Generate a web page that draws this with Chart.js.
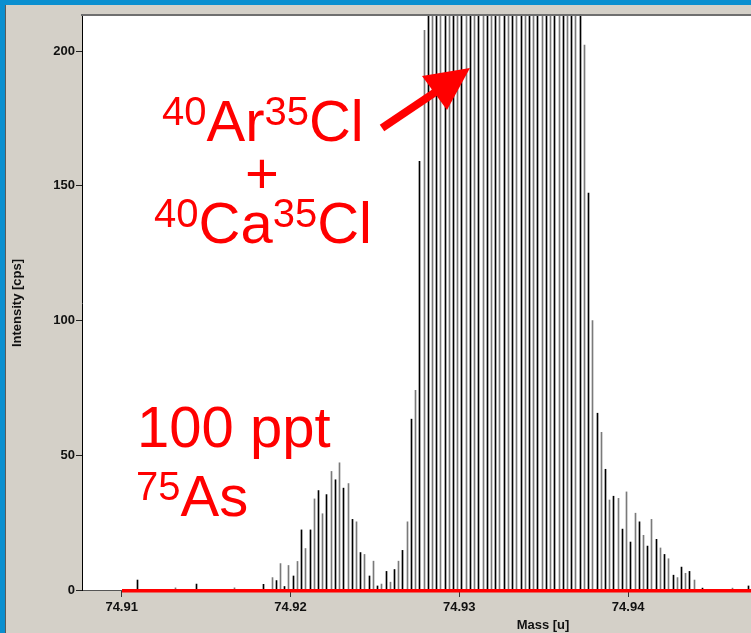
<!DOCTYPE html>
<html>
<head>
<meta charset="utf-8">
<title>Mass spectrum 75As</title>
<script src="https://cdn.jsdelivr.net/npm/chart.js@4.4.1/dist/chart.umd.min.js"></script>
<style>
  html, body { margin: 0; padding: 0; background: #d4d0c8; overflow: hidden; }
  canvas { display: block; }
</style>
</head>
<body>
<canvas id="spectrum" width="751" height="633"></canvas>
<script>
  // ========== DATA ==========
  const masses = [
    74.91091, 74.91316, 74.91441, 74.91666, 74.91841, 74.91891, 74.91916, 74.91941, 74.91966, 74.91991,
    74.92016, 74.92041, 74.92066, 74.92091, 74.92116, 74.92141, 74.92166, 74.92191, 74.92216, 74.92241,
    74.92266, 74.92291, 74.92316, 74.92341, 74.92366, 74.92391, 74.92416, 74.92441, 74.92466, 74.92491,
    74.92516, 74.92541, 74.92566, 74.92591, 74.92616, 74.92641, 74.92666, 74.92691, 74.92716, 74.92741,
    74.92766, 74.92791, 74.92816, 74.92841, 74.92866, 74.92891, 74.92916, 74.92941, 74.92966, 74.92991,
    74.93016, 74.93041, 74.93066, 74.93091, 74.93116, 74.93141, 74.93166, 74.93191, 74.93216, 74.93241,
    74.93266, 74.93291, 74.93316, 74.93341, 74.93366, 74.93391, 74.93416, 74.93441, 74.93466, 74.93491,
    74.93516, 74.93541, 74.93566, 74.93591, 74.93616, 74.93641, 74.93666, 74.93691, 74.93716, 74.93741,
    74.93766, 74.93791, 74.93816, 74.93841, 74.93866, 74.93891, 74.93916, 74.93941, 74.93966, 74.93991,
    74.94016, 74.94041, 74.94066, 74.94091, 74.94116, 74.94141, 74.94166, 74.94191, 74.94216, 74.94241,
    74.94266, 74.94291, 74.94316, 74.94341, 74.94366, 74.94391, 74.94441, 74.94616, 74.94716
  ];
  // intensities in cps; the big ArCl/CaCl peak is off scale, so those values are rough guesses
  const intensities = [
    3.7, 0.8, 2.2, 0.8, 2.1, 4.6, 3.5, 9.8, 1.3, 9.1,
    5.2, 10.6, 22.3, 15.4, 22.3, 33.8, 36.9, 28.3, 35.4, 44.0,
    40.9, 47.2, 37.8, 39.5, 26.2, 25.3, 13.9, 13.2, 5.2, 10.7,
    1.5, 2.2, 6.9, 2.9, 7.6, 10.7, 14.7, 25.3, 63.4, 74.1,
    159.1, 207.7, 260, 320, 390, 460, 530, 600, 660, 710,
    750, 780, 800, 810, 815, 810, 800, 790, 775, 760,
    740, 720, 700, 680, 655, 630, 600, 570, 540, 510,
    475, 440, 405, 370, 335, 300, 270, 245, 225, 202.2,
    147.3, 100, 65.6, 58.5, 44.8, 33.4, 34.8, 34.0, 22.6, 36.4,
    17.8, 28.5, 25.3, 20.3, 16.3, 26.2, 18.8, 15.6, 13.2, 11.6,
    5.5, 4.6, 8.5, 6.2, 6.9, 3.7, 0.7, 0.7, 1.5
  ];
  const xTicks = [74.91, 74.92, 74.93, 74.94];
  const yTicks = [0, 50, 100, 150, 200];

  const FONT = '"Liberation Sans", Arial, sans-serif';
  const RED = '#ff0000';

  // draws e.g. 40Ar35Cl with the mass numbers raised
  function drawIsotopes(ctx, x, y, parts) {
    parts.forEach(([text, sup]) => {
      ctx.font = (sup ? 40 : 58) + 'px ' + FONT;
      ctx.fillText(text, x, sup ? y - 16 : y);
      x += ctx.measureText(text).width;
    });
  }

  const screenshotFrame = {
    id: 'screenshotFrame',
    beforeDraw(chart) {
      const { ctx, chartArea: a, width, height } = chart;
      ctx.save();
      ctx.fillStyle = '#d4d0c8';
      ctx.fillRect(0, 0, width, height);
      ctx.fillStyle = '#ffffff';
      ctx.fillRect(a.left, a.top, a.right - a.left, a.bottom - a.top);
      ctx.fillStyle = '#6f6f6f';
      ctx.fillRect(a.left - 1, a.top - 2, a.right - a.left + 1, 2);
      ctx.restore();
    },
    beforeDatasetsDraw(chart) {
      // snap 1px sticks onto whole pixels
      chart.getDatasetMeta(0).data.forEach(bar => { bar.x = Math.floor(bar.x) + 0.5; });
    },
    afterDraw(chart) {
      const { ctx, chartArea: a, width, height } = chart;
      const xs = chart.scales.x;
      ctx.save();

      // red baseline
      const x0 = Math.round(xs.getPixelForValue(xTicks[0]));
      ctx.fillStyle = RED;
      ctx.fillRect(x0, a.bottom - 1, a.right - x0, 3.5);

      // x axis title (the original plot is wider than the crop)
      ctx.fillStyle = '#111111';
      ctx.font = 'bold 13px ' + FONT;
      ctx.textAlign = 'center';
      ctx.textBaseline = 'middle';
      ctx.fillText('Mass [u]', 543, 625);

      // annotations
      ctx.fillStyle = RED;
      ctx.textAlign = 'left';
      ctx.textBaseline = 'alphabetic';
      drawIsotopes(ctx, 162, 141, [['40', true], ['Ar', false], ['35', true], ['Cl', false]]);
      ctx.font = '58px ' + FONT;
      ctx.textAlign = 'center';
      ctx.fillText('+', 262, 193);
      ctx.textAlign = 'left';
      drawIsotopes(ctx, 154, 243, [['40', true], ['Ca', false], ['35', true], ['Cl', false]]);
      ctx.font = '58px ' + FONT;
      ctx.fillText('100 ppt', 137, 447);
      drawIsotopes(ctx, 136, 516, [['75', true], ['As', false]]);

      // arrow pointing at the interference peak
      ctx.strokeStyle = RED;
      ctx.lineWidth = 8;
      ctx.beginPath();
      ctx.moveTo(382, 128);
      ctx.lineTo(440, 89);
      ctx.stroke();
      ctx.beginPath();
      ctx.moveTo(470, 68);
      ctx.lineTo(422, 76);
      ctx.lineTo(447, 110);
      ctx.closePath();
      ctx.fill();

      // window frame
      ctx.fillStyle = '#0a8fd0';
      ctx.fillRect(0, 0, width, 5);
      ctx.fillRect(0, 0, 5, height);
      ctx.fillStyle = '#5a5a5a';
      ctx.fillRect(5, 5, 1, height - 5);
      ctx.restore();
    }
  };

  function initChart() {
    const ctx = document.getElementById('spectrum').getContext('2d');
    const points = masses.map((m, i) => ({ x: m, y: intensities[i] }));

    new Chart(ctx, {
      type: 'bar',
      data: {
        datasets: [{
          data: points,
          barThickness: 1,
          borderWidth: 0,
          backgroundColor: c => (c.dataIndex % 2 ? '#7a7a7a' : '#000000')
        }]
      },
      options: {
        responsive: false,
        animation: false,
        devicePixelRatio: 1,
        layout: { padding: { top: 16, left: 0, right: 0, bottom: 0 } },
        plugins: { legend: { display: false }, tooltip: { enabled: false } },
        scales: {
          x: {
            type: 'linear',
            offset: false,
            min: 74.90765,
            max: 74.94728,
            afterFit(scale) { scale.height = 43; },
            afterBuildTicks(scale) { scale.ticks = xTicks.map(v => ({ value: v })); },
            grid: { offset: false, drawOnChartArea: false, tickLength: 7, tickColor: '#333333' },
            border: { display: true, color: '#555555' },
            ticks: {
              autoSkip: false,
              maxRotation: 0,
              padding: 3,
              color: '#111111',
              font: { family: FONT, size: 13, weight: 'bold' },
              callback: v => v.toFixed(2)
            }
          },
          y: {
            min: 0,
            max: 213,
            afterFit(scale) { scale.width = 82; },
            afterBuildTicks(scale) { scale.ticks = yTicks.map(v => ({ value: v })); },
            grid: { drawOnChartArea: false, tickLength: 6, tickColor: '#222222' },
            border: { display: true, color: '#000000' },
            ticks: {
              padding: 1,
              color: '#111111',
              font: { family: FONT, size: 13, weight: 'bold' },
              callback: v => String(v)
            },
            title: {
              display: true,
              text: 'Intensity [cps]',
              color: '#111111',
              font: { family: FONT, size: 13, weight: 'bold' },
              padding: { top: 10, bottom: 0 }
            }
          }
        }
      },
      plugins: [screenshotFrame]
    });
  }

  document.addEventListener('DOMContentLoaded', initChart);
</script>
</body>
</html>
